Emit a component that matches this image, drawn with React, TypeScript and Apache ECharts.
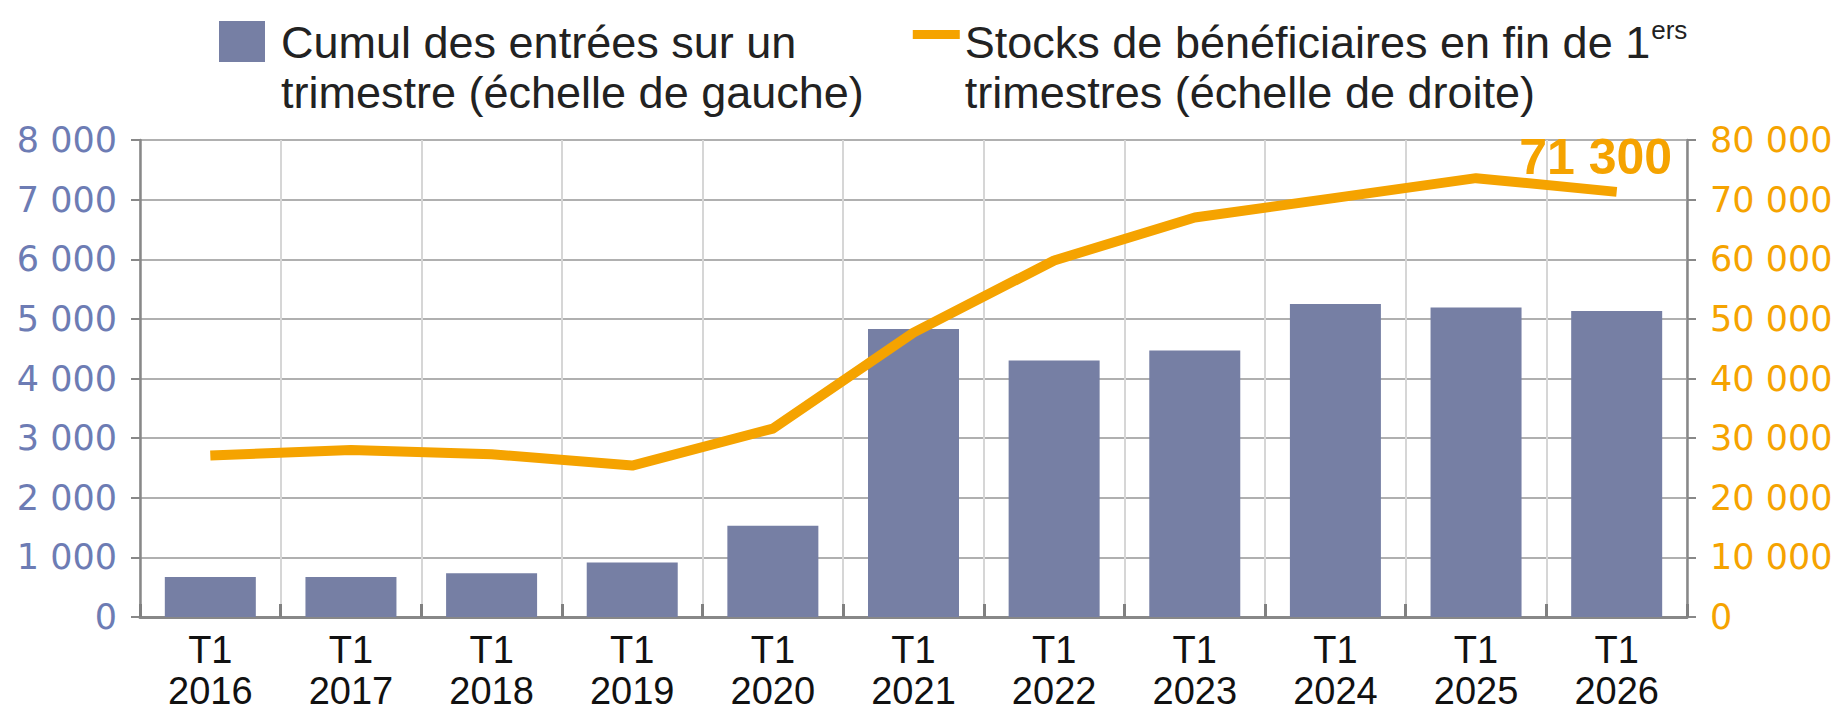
import React, { useEffect, useRef } from "react";
import * as echarts from "echarts";

// ---- Data ----
const years = ["2016", "2017", "2018", "2019", "2020", "2021", "2022", "2023", "2024", "2025", "2026"];
const quarter = "T1";
const categories = years.map((y) => quarter + "\n" + y);

// Cumul des entrées sur un trimestre (left axis)
const entries = [670, 670, 735, 915, 1530, 4830, 4300, 4470, 5250, 5190, 5130];
// Stocks de bénéficiaires en fin de 1ers trimestres (right axis)
const stocks = [27100, 28000, 27300, 25400, 31600, 47700, 59800, 67000, 70300, 73600, 71300];

const barName = "Cumul des entrées sur un trimestre (échelle de gauche)";
const lineName = "Stocks de bénéficiaires en fin de 1ers trimestres (échelle de droite)";
const barLegend = "Cumul des entrées sur un\ntrimestre (échelle de gauche)";
const lineLegend = "Stocks de bénéficiaires en fin de 1{sup|ers}\ntrimestres (échelle de droite)";

const leftMin = 0;
const leftMax = 8000;
const leftInterval = 1000;
const rightMin = 0;
const rightMax = 80000;
const rightInterval = 10000;

const BAR_COLOR = "#767fa4";
const LINE_COLOR = "#f5a300";
const LEFT_LABEL = "#6d7cb4";

const fmt = (v: number) => String(v).replace(/\B(?=(\d{3})+(?!\d))/g, " ");

export default function App() {
  const ref = useRef<HTMLDivElement>(null);

  useEffect(() => {
    if (!ref.current) return;
    const chart = echarts.init(ref.current, null, { renderer: "svg" });
    const lastIdx = stocks.length - 1;
    const lineData = stocks.map((v, i) =>
      i === lastIdx
        ? {
            value: v,
            label: {
              show: true,
              position: "top",
              distance: 4,
              offset: [-21, -5],
              formatter: (p: any) => fmt(p.value),
              fontSize: 50,
              fontWeight: "bold",
              fontFamily: "Liberation Sans",
              color: LINE_COLOR,
            },
          }
        : v
    );

    chart.setOption({
      animation: false,
      backgroundColor: "#ffffff",
      legend: {
        left: 219,
        top: 16,
        padding: 0,
        itemGap: 39,
        itemWidth: 57,
        itemHeight: 102,
        selectedMode: false,
        data: [
          {
            name: barName,
            icon: "path://M0,0L0,0 M0,5L46,5L46,46L0,46Z M57,102L57,102",
            itemStyle: { color: BAR_COLOR, borderWidth: 0 },
          },
          {
            name: lineName,
            icon: "path://M0,0L0,0 M10,14L57,14L57,23L10,23Z M57,102L57,102",
            itemStyle: { color: LINE_COLOR, borderWidth: 0 },
          },
        ],
        formatter: (name: string) => (name === barName ? barLegend : lineLegend),
        textStyle: {
          fontSize: 45,
          lineHeight: 50,
          fontFamily: "Liberation Sans",
          color: "#222222",
          rich: {
            sup: {
              fontSize: 26,
              lineHeight: 50,
              verticalAlign: "top",
              fontFamily: "Liberation Sans",
              color: "#222222",
              padding: [0, 0, 0, 1],
            },
          },
        },
      },
      grid: {
        left: 140,
        right: 153,
        top: 140,
        bottom: 98,
        containLabel: false,
      },
      xAxis: {
        type: "category",
        data: categories,
        boundaryGap: true,
        axisLine: { show: true, lineStyle: { color: "#888888", width: 3 } },
        axisTick: { show: true, inside: true, length: 13, lineStyle: { color: "#808080", width: 3 } },
        splitLine: { show: true, lineStyle: { color: "#d6d6d6", width: 2 } },
        axisLabel: {
          fontSize: 38,
          lineHeight: 41,
          margin: 12,
          color: "#111111",
          fontFamily: "Liberation Sans",
        },
      },
      yAxis: [
        {
          type: "value",
          position: "left",
          min: leftMin,
          max: leftMax,
          interval: leftInterval,
          axisLine: { show: true, lineStyle: { color: "#888888", width: 2.5 } },
          axisTick: { show: true, length: 9, lineStyle: { color: "#888888", width: 2 } },
          splitLine: { show: true, lineStyle: { color: "#b0b0b0", width: 2 } },
          axisLabel: {
            fontSize: 35,
            color: LEFT_LABEL,
            margin: 23,
            fontFamily: "DejaVu Sans",
            formatter: (v: number) => fmt(v),
          },
        },
        {
          type: "value",
          position: "right",
          min: rightMin,
          max: rightMax,
          interval: rightInterval,
          axisLine: { show: true, lineStyle: { color: "#888888", width: 2.5 } },
          axisTick: { show: true, length: 9, lineStyle: { color: "#888888", width: 2 } },
          splitLine: { show: false },
          axisLabel: {
            fontSize: 35,
            color: LINE_COLOR,
            margin: 23,
            fontFamily: "DejaVu Sans",
            formatter: (v: number) => fmt(v),
          },
        },
      ],
      series: [
        {
          name: barName,
          type: "bar",
          yAxisIndex: 0,
          data: entries,
          barWidth: 91,
          itemStyle: { color: BAR_COLOR },
          z: 2,
        },
        {
          name: lineName,
          type: "line",
          yAxisIndex: 1,
          data: lineData,
          showSymbol: true,
          symbol: "circle",
          symbolSize: 1,
          itemStyle: { color: "rgba(0,0,0,0)", borderWidth: 0 },
          lineStyle: { color: LINE_COLOR, width: 10, cap: "butt", join: "round" },
          z: 3,
        },
      ],
    });

    return () => chart.dispose();
  }, []);

  return (
    <div
      ref={ref}
      style={{ position: "absolute", left: 0, top: 0, width: 1840, height: 715, background: "#fff" }}
    />
  );
}
